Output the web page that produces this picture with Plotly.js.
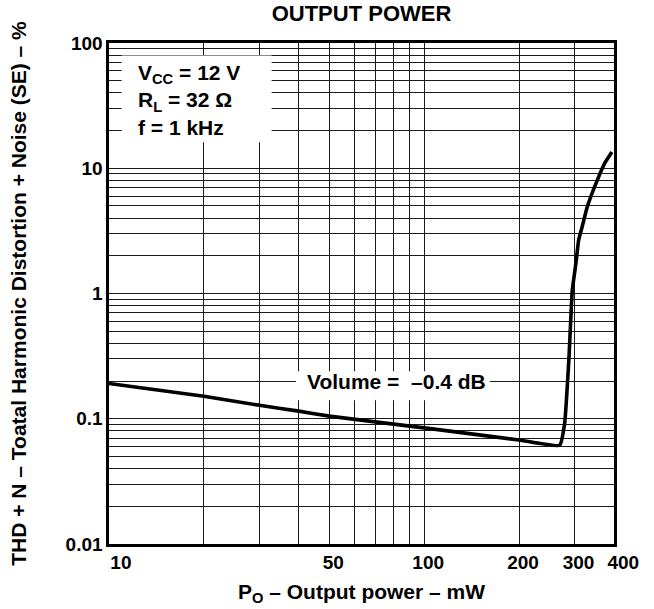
<!DOCTYPE html>
<html>
<head>
<meta charset="utf-8">
<script src="https://cdn.plot.ly/plotly-3.0.1.min.js"></script>
<style>html,body{margin:0;padding:0;background:#fff;}</style>
</head>
<body>
<div id="chart" style="width:654px;height:609px;"></div>
<script>
// Curve: THD+N (%) vs output power (mW)
const powerMW = [10, 20, 30, 40, 50, 100, 200, 269, 279, 288, 295, 303, 309, 317, 329, 351, 374, 394];
const thdPct  = [0.191, 0.151, 0.128, 0.115, 0.105, 0.0845, 0.0677, 0.0615, 0.092, 0.31, 1.06, 1.75, 2.66, 3.4, 4.9, 7.6, 11.0, 13.5];

// Axis grid values and tick labels
const xGridVals = [10, 20, 30, 40, 50, 60, 70, 80, 90, 100, 200, 300, 400];
const xGridText = ['\u00a0\u00a0\u00a010', '', '', '', '50', '', '', '', '', '100', '200', '300', '\u00a0\u00a0400'];
const yGridVals = [0.01, 0.02, 0.03, 0.04, 0.05, 0.06, 0.07, 0.08, 0.09,
                   0.1, 0.2, 0.3, 0.4, 0.5, 0.6, 0.7, 0.8, 0.9,
                   1, 2, 3, 4, 5, 6, 7, 8, 9,
                   10, 20, 30, 40, 50, 60, 70, 80, 90, 100];
const yGridText = yGridVals.map(v => ({0.01:'0.01', 0.1:'0.1', 1:'1', 10:'10', 100:'100'}[v] || ''));

const FONT = 'Liberation Sans, Arial, Helvetica, sans-serif';

const trace = {
  x: powerMW, y: thdPct, type: 'scatter', mode: 'lines',
  line: {color: '#000', width: 3.6, shape: 'spline', smoothing: 0.4},
  hoverinfo: 'skip'
};

const layout = {
  width: 654, height: 609,
  margin: {l: 109, r: 40, t: 43, b: 65},
  paper_bgcolor: '#fff', plot_bgcolor: '#fff',
  showlegend: false,
  font: {family: FONT, size: 20, color: '#000', weight: 'bold'},
  title: {text: 'OUTPUT POWER', font: {family: FONT, size: 22, weight: 'bold', color: '#000'},
          x: 0.5, xref: 'paper', xanchor: 'center', y: 0.978, yref: 'container', yanchor: 'middle'},
  xaxis: {
    type: 'log', range: [1, 2.6022], autorange: false,
    tickmode: 'array', tickvals: xGridVals, ticktext: xGridText,
    tickangle: 0, ticklabeloverflow: 'allow', ticklabelshift: 4,
    showgrid: true, gridcolor: '#1a1a1a', gridwidth: 1,
    showline: true, mirror: true, linecolor: '#000', linewidth: 2.6,
    ticks: '', zeroline: false,
    tickfont: {family: FONT, size: 19, weight: 'bold', color: '#000'},
    title: {text: 'P<sub>O</sub> – Output power – mW', font: {family: FONT, size: 21, weight: 'bold', color: '#000'}, standoff: 12}
  },
  yaxis: {
    type: 'log', range: [-2, 2], autorange: false,
    tickmode: 'array', tickvals: yGridVals, ticktext: yGridText,
    tickangle: 0,
    showgrid: true, gridcolor: '#1a1a1a', gridwidth: 1,
    showline: true, mirror: true, linecolor: '#000', linewidth: 2.6,
    ticks: '', zeroline: false,
    tickfont: {family: FONT, size: 19, weight: 'bold', color: '#000'},
    title: {text: 'THD + N – Toatal Harmonic Distortion + Noise (SE) – %', font: {family: FONT, size: 21, weight: 'bold', color: '#000'}, standoff: 34}
  },
  shapes: [
    {type: 'rect', xref: 'paper', yref: 'paper', x0: 0.025, x1: 0.322, y0: 0.802, y1: 0.975,
     fillcolor: '#fff', line: {width: 0}, layer: 'above'},
    {type: 'rect', xref: 'paper', yref: 'paper', x0: 0.37, x1: 0.754, y0: 0.287, y1: 0.345,
     fillcolor: '#fff', line: {width: 0}, layer: 'above'}
  ],
  annotations: [
    {xref: 'paper', yref: 'paper', x: 0.053, y: 0.968, xanchor: 'left', yanchor: 'top', align: 'left',
     showarrow: false, text: 'V<sub>CC</sub> = 12 V<br>R<sub>L</sub> = 32 Ω<br>f = 1 kHz',
     font: {family: FONT, size: 21, weight: 'bold', color: '#000'}},
    {xref: 'paper', yref: 'paper', x: 0.570, y: 0.325, xanchor: 'center', yanchor: 'middle',
     showarrow: false, text: 'Volume = \u00a0–0.4 dB',
     font: {family: FONT, size: 21, weight: 'bold', color: '#000'}}
  ]
};

Plotly.newPlot('chart', [trace], layout, {displayModeBar: false, staticPlot: true});
</script>
</body>
</html>
